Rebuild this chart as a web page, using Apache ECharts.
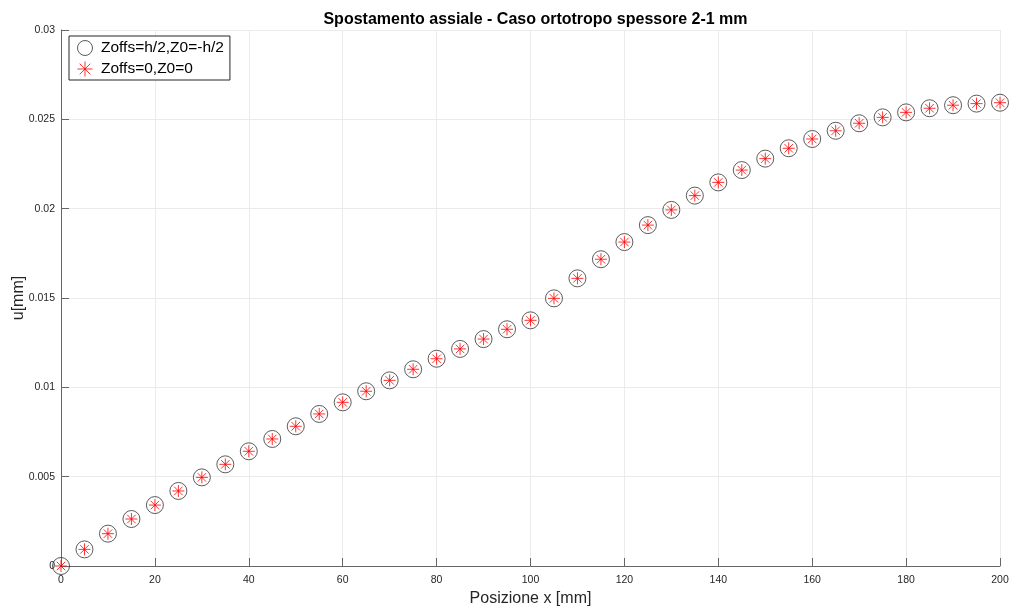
<!DOCTYPE html>
<html>
<head>
<meta charset="utf-8">
<script src="https://cdn.jsdelivr.net/npm/echarts@6/dist/echarts.min.js"></script>
<style>html,body{margin:0;padding:0;background:#fff;}#c{width:1016px;height:608px;}</style>
</head>
<body>
<div id="c"></div>
<script>
var xPos = [0,5,10,15,20,25,30,35,40,45,50,55,60,65,70,75,80,85,90,95,100,105,110,115,120,125,130,135,140,145,150,155,160,165,170,175,180,185,190,195,200];
var uOffset = [0,0.00093,0.00181,0.00263,0.00341,0.0042,0.00496,0.00569,0.00642,0.00711,0.00782,0.00851,0.00916,0.00978,0.01039,0.01101,0.0116,0.01215,0.0127,0.01325,0.01375,0.01498,0.0161,0.01717,0.01813,0.01908,0.01993,0.02073,0.02147,0.02216,0.0228,0.02338,0.0239,0.02436,0.02478,0.02511,0.02539,0.02562,0.02579,0.02588,0.02593];
var uZero = [0,0.00093,0.00181,0.00263,0.00341,0.0042,0.00496,0.00569,0.00642,0.00711,0.00782,0.00851,0.00916,0.00978,0.01039,0.01101,0.0116,0.01215,0.0127,0.01325,0.01375,0.01498,0.0161,0.01717,0.01813,0.01908,0.01993,0.02073,0.02147,0.02216,0.0228,0.02338,0.0239,0.02436,0.02478,0.02511,0.02539,0.02562,0.02579,0.02588,0.02593];
var seriesNames = ['Zoffs=h/2,Z0=-h/2', 'Zoffs=0,Z0=0'];
var titleText = 'Spostamento assiale - Caso ortotropo spessore 2-1 mm';
var xName = 'Posizione x [mm]';
var yName = 'u[mm]';

function pairs(xs, ys){ return xs.map(function(x,i){ return [x, ys[i]]; }); }
var star = 'path://M0,-10L0,10M-10,0L10,0M-7.07,-7.07L7.07,7.07M-7.07,7.07L7.07,-7.07';
var font = 'Liberation Sans, Arial, Helvetica, sans-serif';
var chart = echarts.init(document.getElementById('c'), null, {renderer:'canvas'});
chart.setOption({
  backgroundColor:'#fff',
  animation:false,
  textStyle:{fontFamily:font},
  title:{text:titleText, left:530.5, textAlign:'center', top:7,
    textStyle:{fontFamily:font, fontSize:16, fontWeight:'bold', color:'#000'}},
  legend:{orient:'vertical', left:69, top:36, itemWidth:22, itemHeight:15, itemGap:5,
    padding:[4,6,3,8], borderColor:'#262626', borderWidth:1, backgroundColor:'#fff',
    textStyle:{fontFamily:font, fontSize:15.5, color:'#000'},
    data:[{name:seriesNames[0], icon:'circle', itemStyle:{color:'transparent', borderColor:'#333', borderWidth:1}},
          {name:seriesNames[1], icon:star, itemStyle:{color:'transparent', borderColor:'#ff0000', borderWidth:1}}]},
  grid:{left:61, right:16, top:30, bottom:42, containLabel:false, outerBoundsMode:'none'},
  xAxis:{type:'value', min:0, max:200, interval:20, name:xName, nameLocation:'middle', nameGap:22,
    nameTextStyle:{fontFamily:font, fontSize:16, color:'#262626'},
    axisLine:{show:true, lineStyle:{color:'#666', width:1}},
    axisTick:{show:true, inside:true, length:8, lineStyle:{color:'#666'}},
    axisLabel:{fontFamily:font, fontSize:10.5, color:'#262626', margin:9},
    splitLine:{show:true, lineStyle:{color:'#ebebeb', width:1}}},
  yAxis:{type:'value', min:0, max:0.03, interval:0.005, name:yName, nameLocation:'middle', nameGap:34,
    nameMoveOverlap:false,
    nameTextStyle:{fontFamily:font, fontSize:16, color:'#262626'},
    axisLine:{show:true, lineStyle:{color:'#666', width:1}},
    axisTick:{show:true, inside:true, length:8, lineStyle:{color:'#666'}},
    axisLabel:{fontFamily:font, fontSize:10.5, color:'#262626', margin:6,
      formatter:function(v){ return String(parseFloat(v.toFixed(4))); }},
    splitLine:{show:true, lineStyle:{color:'#ebebeb', width:1}}},
  series:[
    {name:seriesNames[0], type:'scatter', data:pairs(xPos,uOffset), symbol:'circle', symbolSize:17, clip:false,
      itemStyle:{color:'transparent', borderColor:'#333', borderWidth:1}, z:2},
    {name:seriesNames[1], type:'scatter', data:pairs(xPos,uZero), symbol:star, symbolSize:12, clip:false,
      itemStyle:{color:'transparent', borderColor:'#ff0000', borderWidth:1}, z:3}
  ]
});
</script>
</body>
</html>
